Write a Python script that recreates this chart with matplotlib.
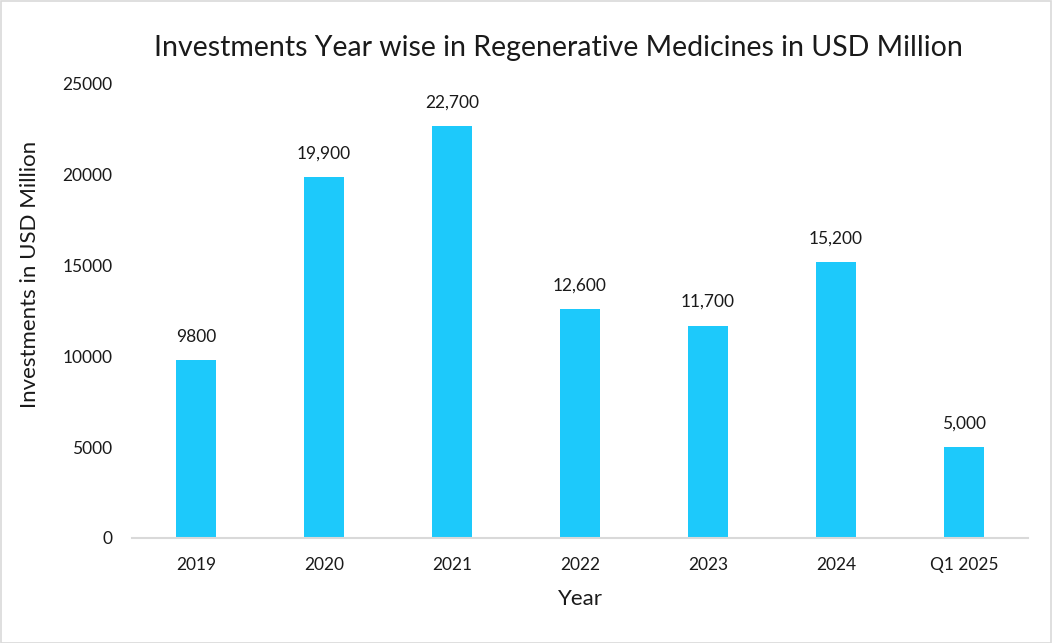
import matplotlib
matplotlib.use("Agg")
import matplotlib.pyplot as plt
from matplotlib.patches import Rectangle

plt.rcParams["font.family"] = ["Lato", "DejaVu Sans"]

years = ["2019", "2020", "2021", "2022", "2023", "2024", "Q1 2025"]
values = [9800, 19900, 22700, 12600, 11700, 15200, 5000]
labels = ["9800", "19,900", "22,700", "12,600", "11,700", "15,200", "5,000"]

W, H = 1052, 643
fig = plt.figure(figsize=(W / 100, H / 100), dpi=100)
ax = fig.add_axes([132 / W, (H - 538) / H, (1028 - 132) / W, (538 - 84) / H])

x = range(len(years))
ax.bar(x, values, width=0.31, color="#1DC9FB")
for i, (v, t) in enumerate(zip(values, labels)):
    ax.text(i, v + 850, t, ha="center", va="bottom", fontsize=12.5, color="#1a1a1a")

ax.set_xlim(-0.5, len(years) - 0.5)
ax.set_ylim(0, 25000)
ax.set_yticks(range(0, 25001, 5000))
ax.set_xticks(list(x))
ax.set_xticklabels(years)
ax.tick_params(axis="both", length=0, labelsize=12.5, colors="#1a1a1a")
ax.tick_params(axis="x", pad=14)
ax.tick_params(axis="y", pad=14)
for s in ["top", "right", "left"]:
    ax.spines[s].set_visible(False)
ax.spines["bottom"].set_color("#D9D9D9")
ax.spines["bottom"].set_linewidth(1.5)

ax.set_xlabel("Year", fontsize=16, color="#1a1a1a", va="top")
ax.xaxis.set_label_coords(0.5, -0.112)
ax.set_ylabel("Investments in USD Million", fontsize=16, color="#1a1a1a")
ax.yaxis.set_label_coords(-0.103, 0.58)
fig.text(558 / W, (H - 48) / H, "Investments Year wise in Regenerative Medicines in USD Million",
         ha="center", va="center", fontsize=20.5, color="#1a1a1a")

fig.patches.append(Rectangle((0.5 / W, 0.5 / H), 1 - 1.5 / W, 1 - 1.5 / H,
                             transform=fig.transFigure, fill=False,
                             edgecolor="#D9D9D9", lw=1.2))

fig.savefig("out.png", dpi=100)
